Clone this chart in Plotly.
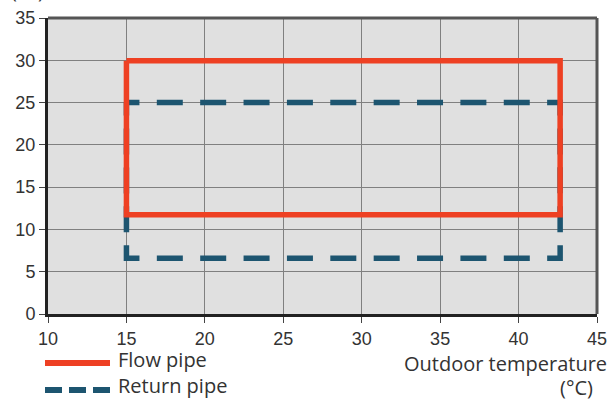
import plotly.graph_objects as go

# Data
flow_x = [15, 42.65, 42.65, 15, 15]
flow_y = [29.95, 29.95, 11.75, 11.75, 29.95]
return_x = [15, 42.65, 42.65, 15, 15]
return_y = [25, 25, 6.6, 6.6, 25]
x_ticks = [10, 15, 20, 25, 30, 35, 40, 45]
y_ticks = [0, 5, 10, 15, 20, 25, 30, 35]
series_names = ["Flow pipe", "Return pipe"]
x_title = ["Outdoor temperature", "(°C)"]
y_title = "(°C)"

RED = "#ee4023"
TEAL = "#1d5570"
FONT = "Open Sans"
TICKFONT = "Liberation Sans"
TXT = "#333333"

W, H = 613, 401
ML, MR, MT, MB = 48, 16, 18, 87
PW, PH = W - ML - MR, H - MT - MB
XR, YR = [10, 45], [0, 35]
sx = PW / (XR[1] - XR[0])
sy = PH / (YR[1] - YR[0])


def px(xp):
    return (xp - ML) / PW


def py(yp):
    return (H - MB - yp) / PH


# dash pattern aligned to corners (dashes wrap around each corner)
def corner_dash(xs, ys, dash=26, gap=17):
    seq = [dash / 2]
    n = len(xs) - 1
    for i in range(n):
        L = ((xs[i + 1] - xs[i]) * sx) ** 2 + ((ys[i + 1] - ys[i]) * sy) ** 2
        L = L ** 0.5
        k = max(0, round((L - dash - gap) / (dash + gap)))
        g = (L - dash - k * dash) / (k + 1)
        seq.append(g)
        for _ in range(k):
            seq += [dash, g]
        seq.append(dash if i < n - 1 else dash / 2)
    seq.append(2000)
    return ",".join(f"{v:.2f}px" for v in seq)


fig = go.Figure()
fig.add_trace(go.Scatter(x=return_x, y=return_y, mode="lines", name=series_names[1],
                         line=dict(color=TEAL, width=5.5, dash=corner_dash(return_x, return_y)),
                         showlegend=False))
fig.add_trace(go.Scatter(x=flow_x, y=flow_y, mode="lines", name=series_names[0],
                         line=dict(color=RED, width=5.5), showlegend=False))

fig.update_layout(
    width=W, height=H,
    margin=dict(l=ML, r=MR, t=MT, b=MB, autoexpand=False),
    paper_bgcolor="white", plot_bgcolor="#e0e0e0",
    font=dict(family=FONT, size=20, color=TXT),
    showlegend=False,
)
axis_common = dict(showgrid=True, gridcolor="#808080", gridwidth=1, zeroline=False,
                   showline=True, linecolor="#222222", linewidth=3, automargin=False,
                   ticks="outside", ticklen=6, tickcolor="#444444",
                   tickfont=dict(family=TICKFONT, size=18, color=TXT))
fig.update_xaxes(range=XR, tickvals=x_ticks, **axis_common)
fig.update_yaxes(range=YR, tickvals=y_ticks, **axis_common)

shapes = [
    dict(type="line", xref="paper", yref="paper", x0=0, x1=1, y0=1, y1=1,
         line=dict(color="#555555", width=3)),
    dict(type="line", xref="paper", yref="paper", x0=1, x1=1, y0=0, y1=1,
         line=dict(color="#555555", width=3)),
    dict(type="line", xref="paper", yref="paper", x0=px(45), x1=px(110), y0=py(363), y1=py(363),
         line=dict(color=RED, width=6)),
    dict(type="line", xref="paper", yref="paper", x0=px(45), x1=px(110), y0=py(390), y1=py(390),
         line=dict(color=TEAL, width=6, dash="17px,7px")),
]
fig.update_layout(shapes=shapes)

ann = [
    dict(text=series_names[0], x=px(116), y=py(359), xanchor="left", yanchor="middle"),
    dict(text=series_names[1], x=px(116), y=py(385), xanchor="left", yanchor="middle"),
    dict(text=x_title[0], x=px(609), y=py(363), xanchor="right", yanchor="middle"),
    dict(text=x_title[1], x=px(595), y=py(387), xanchor="right", yanchor="middle"),
    dict(text=y_title, x=px(27), y=py(6), xanchor="center", yanchor="bottom"),
]
for a in ann:
    a.update(xref="paper", yref="paper", showarrow=False,
             font=dict(family=FONT, size=20, color=TXT))
fig.update_layout(annotations=ann)

fig.write_html("out.html",
               config={"displayModeBar": False},
               post_script="document.body.style.margin='0px';document.body.style.overflow='hidden';")
